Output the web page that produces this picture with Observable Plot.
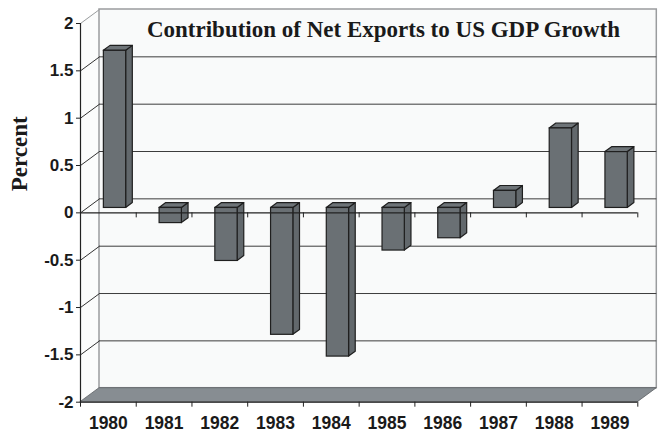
<!DOCTYPE html>
<html>
<head>
<meta charset="utf-8">
<script src="https://cdn.jsdelivr.net/npm/d3@7"></script>
<script src="https://cdn.jsdelivr.net/npm/@observablehq/plot@0.6"></script>
<style>
  html, body { margin: 0; padding: 0; background: #ffffff; }
</style>
</head>
<body>
<div id="chart"></div>
<script>
// ---- data ----
const years = ["1980", "1981", "1982", "1983", "1984", "1985", "1986", "1987", "1988", "1989"];
const values = [1.66, -0.16, -0.56, -1.34, -1.57, -0.45, -0.32, 0.18, 0.84, 0.59];
const yTicks = [-2, -1.5, -1, -0.5, 0, 0.5, 1, 1.5, 2];
const chartTitle = "Contribution of Net Exports to US GDP Growth";
const yLabel = "Percent";

// ---- layout ----
const W = 658, H = 433;
const mL = 80, mR = 20.7, mT = 23, mB = 31.3;
const n = years.length;
const yMin = -2, yMax = 2;
const pxPerCat = (W - mL - mR) / n;
const pxPerPct = (H - mT - mB) / (yMax - yMin);
// 3-D depth of the walls in pixels, converted to data units
const depthPx = {x: 19, y: 14};
const DX = depthPx.x / pxPerCat;
const DY = depthPx.y / pxPerPct;
const F1 = 0.35, F2 = 0.70;   // bar front / back depth fraction
const BW = 0.4;                // bar width as fraction of a category
const tick5 = 5 / pxPerPct;

const bars = years.map((year, i) => ({year, i, v: values[i]}));
const faceFront = bars.map(b => ({
  year: b.year,
  x1: b.i + 0.5 - BW / 2 + F1 * DX, x2: b.i + 0.5 + BW / 2 + F1 * DX,
  y1: F1 * DY, y2: b.v + F1 * DY
}));
const faceSide = bars.flatMap(b => [F1, F2].map(f => ({
  year: b.year, x: b.i + 0.5 + BW / 2 + f * DX, y1: f * DY, y2: b.v + f * DY
})));
const faceTop = bars.flatMap(b => [F1, F2].map(f => ({
  year: b.year, y: Math.max(b.v, 0) + f * DY,
  x1: b.i + 0.5 - BW / 2 + f * DX, x2: b.i + 0.5 + BW / 2 + f * DX
})));

const floor = [{y: yMin, x1: 0, x2: n}, {y: yMin + DY, x1: DX, x2: n + DX}];
const leftWall = [{x: 0, y1: yMin, y2: yMax}, {x: DX, y1: yMin + DY, y2: yMax + DY}];
const innerTicks = yTicks.filter(t => t > yMin && t < yMax);

const sans = "'Liberation Sans', Arial, Helvetica, sans-serif";
const serif = "'Liberation Serif', 'Times New Roman', serif";
const barFill = "#6a7074", barStroke = "#1f1f1f";

const chart = Plot.plot({
  width: W, height: H,
  marginLeft: mL, marginRight: mR, marginTop: mT, marginBottom: mB,
  x: {domain: [0, n], axis: null},
  y: {domain: [yMin, yMax], axis: null},
  style: {background: "transparent", fontFamily: sans, overflow: "visible"},
  marks: [
    // left side wall
    Plot.areaY(leftWall, {x: "x", y1: "y1", y2: "y2", fill: "#fbfcfc"}),
    // back wall
    Plot.rect([{}], {x1: DX, x2: n + DX, y1: yMin + DY, y2: yMax + DY, fill: "#f9fafa", stroke: "#9a9c9e", strokeWidth: 1.5}),
    // back-wall gridlines
    Plot.ruleY(innerTicks, {y: t => t + DY, x1: DX, x2: n + DX, stroke: "#3c3c3c", strokeWidth: 1}),
    // side-wall gridlines
    Plot.link(yTicks.filter(t => t > yMin), {x1: 0, y1: t => t, x2: DX, y2: t => t + DY,
      stroke: t => t === yMax ? "#9a9c9e" : "#333333", strokeWidth: 1}),
    // floor
    Plot.areaX(floor, {y: "y", x1: "x1", x2: "x2", fill: "#878d92", stroke: "#5a5e62", strokeWidth: 0.8}),
    // bars: side, top, front
    Plot.areaY(faceSide, {x: "x", y1: "y1", y2: "y2", z: "year", fill: "#62686c", stroke: barStroke, strokeWidth: 1.2}),
    Plot.areaX(faceTop, {y: "y", x1: "x1", x2: "x2", z: "year", fill: "#6e7478", stroke: barStroke, strokeWidth: 1.2}),
    Plot.rect(faceFront, {x1: "x1", x2: "x2", y1: "y1", y2: "y2", fill: barFill, stroke: barStroke, strokeWidth: 1.2}),
    // front zero plane line with ticks
    Plot.ruleY([0], {x1: 0, x2: n, stroke: "#222", strokeWidth: 1.3}),
    Plot.ruleX(d3.range(1, n + 1), {y1: 0, y2: -tick5, stroke: "#222", strokeWidth: 1}),
    // front axes lines
    Plot.ruleX([0], {y1: yMin, y2: yMax, stroke: "#222", strokeWidth: 1.2}),
    Plot.ruleY([yMin], {x1: 0, x2: n, stroke: "#222", strokeWidth: 1.3}),
    // y axis
    Plot.axisY({ticks: yTicks, tickSize: 4, tickPadding: 3, tickFormat: d => String(d),
      fontSize: 17, fontWeight: "bold", fontFamily: sans, fill: "#1a1a1a", stroke: "#222", label: null}),
    // x axis ticks at category boundaries
    Plot.axisX({ticks: d3.range(0, n + 1), tickSize: 5, tickFormat: () => "", stroke: "#222", label: null}),
    // x axis labels at category centers
    Plot.axisX({ticks: d3.range(n).map(i => i + 0.5), tickSize: 0, tickPadding: 14,
      tickFormat: d => years[Math.floor(d)], fontSize: 17.5, fontWeight: "bold", fontFamily: sans, fill: "#1a1a1a", label: null}),
    // title
    Plot.text([chartTitle], {frameAnchor: "top", dx: 24.3, dy: 13, lineAnchor: "bottom",
      fontSize: 23, fontWeight: "bold", fontFamily: serif, fill: "#1a1a1a"}),
    // y label
    Plot.text([yLabel], {frameAnchor: "left", rotate: -90, dx: -61, dy: -21.6, lineAnchor: "middle",
      fontSize: 23, fontWeight: "bold", fontFamily: serif, fill: "#1a1a1a"})
  ]
});
document.getElementById("chart").appendChild(chart);
</script>
</body>
</html>
